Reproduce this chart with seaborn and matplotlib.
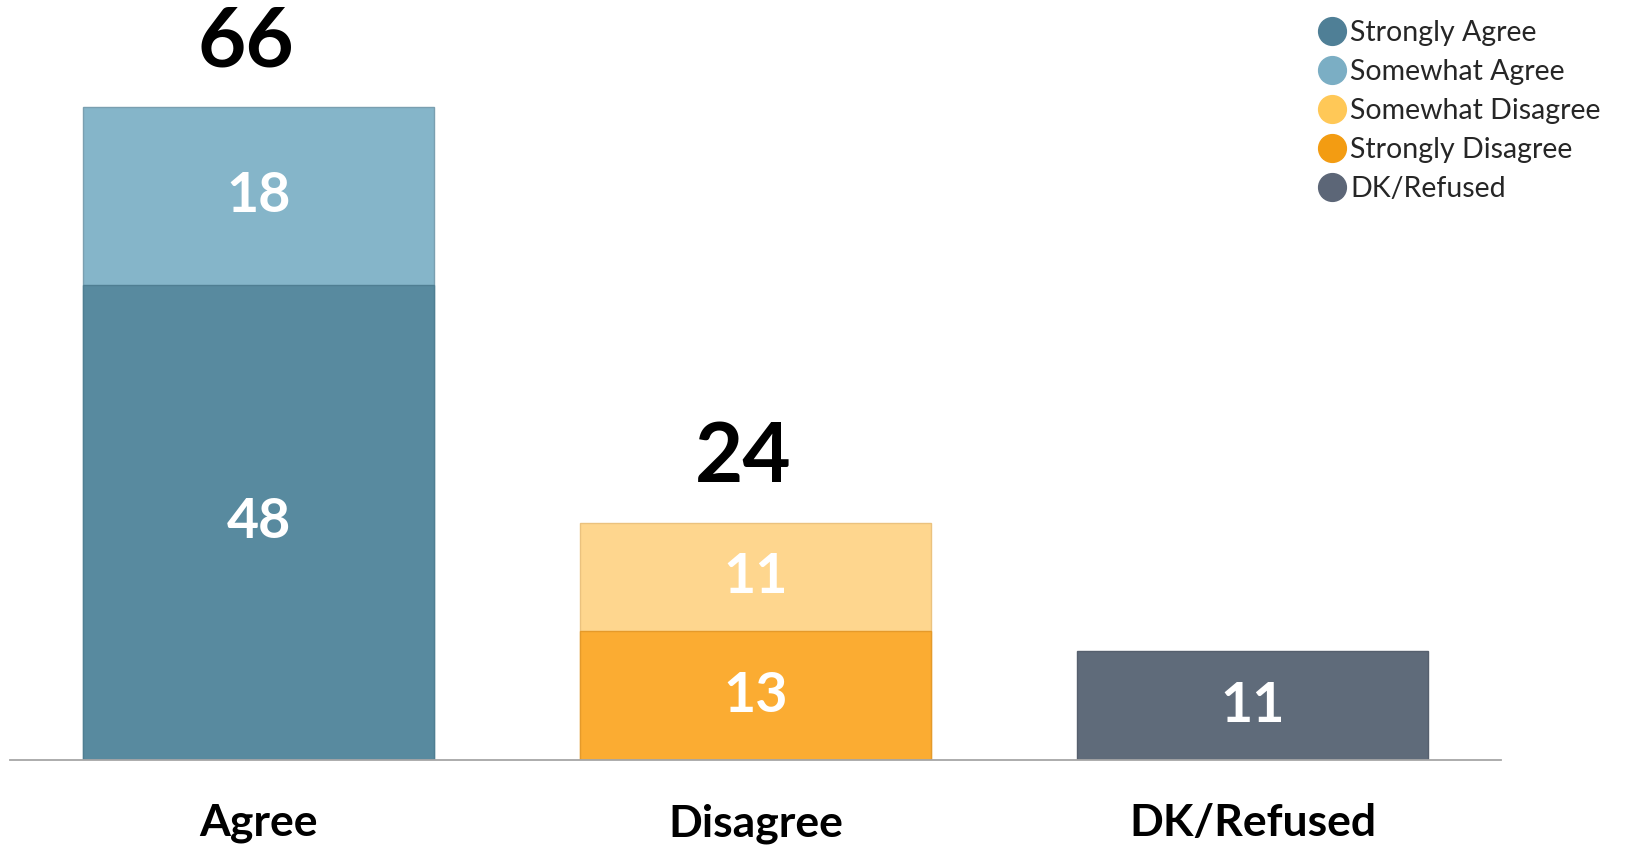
import matplotlib
matplotlib.use("Agg")
import matplotlib.pyplot as plt
from matplotlib.lines import Line2D
import seaborn as sns
import pandas as pd

categories = ["Agree", "Disagree", "DK/Refused"]
segment_names = ["Strongly Agree", "Somewhat Agree", "Somewhat Disagree", "Strongly Disagree", "DK/Refused"]
strongly_agree = [48, 0, 0]
somewhat_agree = [18, 0, 0]
somewhat_disagree = [0, 11, 0]
strongly_disagree = [0, 13, 0]
dk_refused = [0, 0, 11]
totals_shown = [66, 24, None]

bar_colors = {"Strongly Agree": "#588A9F", "Somewhat Agree": "#85B5C9",
              "Somewhat Disagree": "#FED68E", "Strongly Disagree": "#FBAC32",
              "DK/Refused": "#5F6B7A"}
edge_colors = {"Strongly Agree": "#4F7E92", "Somewhat Agree": "#7A9FB0",
               "Somewhat Disagree": "#EBC27E", "Strongly Disagree": "#E59A2A",
               "DK/Refused": "#56606E"}
legend_colors = ["#4F7F96", "#7BAEC4", "#FFC857", "#F39C12", "#5C6677"]

sns.set_theme(style="white")
plt.rcParams["font.family"] = ["Lato", "DejaVu Sans"]

fig = plt.figure(figsize=(16.25, 8.47), dpi=100)
ax = fig.add_axes([10 / 1625, 87 / 847, 1491 / 1625, 760 / 847])

stack_bottom = {"Strongly Agree": strongly_agree, "Strongly Disagree": strongly_disagree,
                "DK/Refused": dk_refused}
stack_top = {"Somewhat Agree": somewhat_agree, "Somewhat Disagree": somewhat_disagree}
base_vals = [a + b + c for a, b, c in zip(strongly_agree, strongly_disagree, dk_refused)]

for name, vals in stack_top.items():
    cum = [b + v for b, v in zip(base_vals, vals)]
    df = pd.DataFrame({"cat": categories, "val": cum, "seg": vals})
    df = df[df["seg"] > 0]
    sns.barplot(data=df, x="cat", y="val", order=categories, color=bar_colors[name],
                width=0.705, saturation=1, edgecolor=edge_colors[name], linewidth=1.0, ax=ax)
    for _, r in df.iterrows():
        xi = categories.index(r["cat"])
        ax.text(xi, r["val"] - r["seg"] / 2, f"{int(r['seg'])}", ha="center", va="center",
                color="white", fontsize=40, fontweight="bold")

for name, vals in stack_bottom.items():
    df = pd.DataFrame({"cat": categories, "val": vals})
    df = df[df["val"] > 0]
    sns.barplot(data=df, x="cat", y="val", order=categories, color=bar_colors[name],
                width=0.705, saturation=1, edgecolor=edge_colors[name], linewidth=1.0, ax=ax)
    for _, r in df.iterrows():
        xi = categories.index(r["cat"])
        ax.text(xi, r["val"] / 2, f"{int(r['val'])}", ha="center", va="center",
                color="white", fontsize=40, fontweight="bold")

for i, t in enumerate(totals_shown):
    if t is None:
        continue
    ax.annotate(f"{t}", xy=(i, t), xytext=(-9, 29), textcoords="offset points",
                ha="center", va="baseline", fontsize=60, fontweight="bold", color="black")

ax.set_xlim(-0.5, 2.5)
ax.set_ylim(0, 76.8)
ax.set_xlabel("")
ax.set_ylabel("")
ax.set_yticks([])
for s in ["top", "right", "left"]:
    ax.spines[s].set_visible(False)
ax.spines["bottom"].set_color("#A6A6A6")
ax.spines["bottom"].set_linewidth(1.3)
ax.tick_params(axis="x", length=0, pad=31, labelsize=32)
for lbl in ax.get_xticklabels():
    lbl.set_fontweight("bold")
    lbl.set_color("black")

handles = [Line2D([0], [0], marker="o", linestyle="none", markersize=20,
                  markerfacecolor=c, markeredgecolor=c) for c in legend_colors]
fig.legend(handles, segment_names, loc="upper left", bbox_to_anchor=(1318 / 1625, 1 - 20 / 847),
           frameon=False, fontsize=20.5, handlelength=1.0, handletextpad=0.12,
           labelspacing=0.46, borderpad=0, borderaxespad=0)

fig.savefig("out.png", dpi=100)
